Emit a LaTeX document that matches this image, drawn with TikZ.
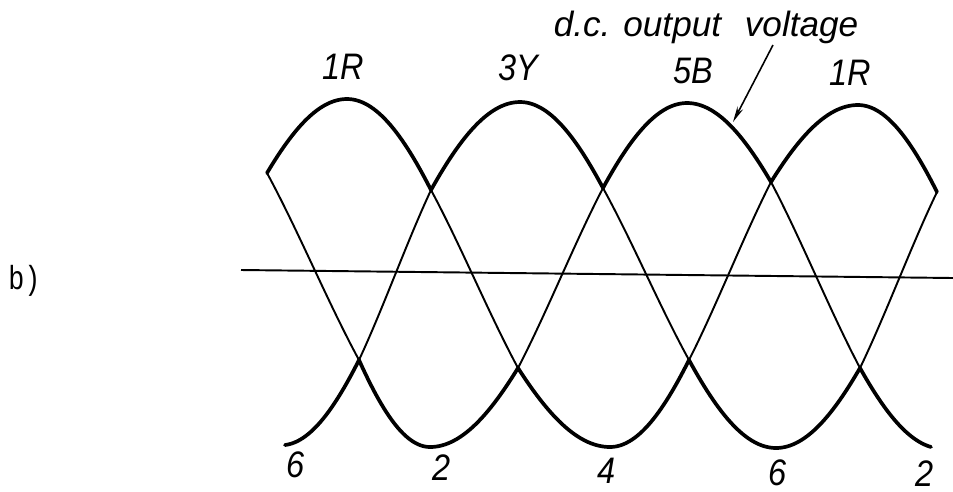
\documentclass[tikz,border=0pt]{standalone}
\usepackage{fontspec}
\usetikzlibrary{arrows.meta}
\newfontfamily\lblfont[FakeStretch=0.88]{Liberation Sans}
\newfontfamily\lblwide{Liberation Sans}
\newfontfamily\ttyfont[FakeStretch=0.8]{Liberation Mono}
% cosine-shaped segment: style, x1, y1, x2, y2, phase1, phase2
\newcommand\cosseg[7]{\draw[#1] plot[domain=#6:#7, samples=30, variable=\t]
  ({#2+(#4-(#2))*(\t-(#6))/((#7)-(#6))},
   {#3+(#5-(#3))*(cos(#6)-cos(\t))/(cos(#6)-cos(#7))});}
\begin{document}
\begin{tikzpicture}[x=0.02cm,y=-0.02cm,
  env/.style={line width=2.1pt, line cap=round, line join=round},
  phase/.style={line width=1.1pt, line cap=round},
  axis/.style={line width=1.1pt},
  lbl/.style={font=\lblfont\itshape\fontsize{21}{24}\selectfont, inner sep=0pt, anchor=base, text depth=0pt},
  biglbl/.style={font=\lblwide\itshape\fontsize{20}{24}\selectfont, inner sep=0pt, anchor=base},
  pointer/.style={line width=0.9pt, -{Stealth[length=9pt,width=3.6pt]}}]
\useasboundingbox (0,0) rectangle (953,491);

% zero line
\coordinate (z0) at (241,270);
\coordinate (z1) at (953,278);
\draw[axis] (z0) -- (z1);

% upper envelope (thick arches)
\cosseg{env}{267}{173}{347}{99}{-60}{0}
\cosseg{env}{347}{99}{431}{190}{0}{60}
\cosseg{env}{431}{190}{520}{102}{-60}{0}
\cosseg{env}{520}{102}{603}{188}{0}{60}
\cosseg{env}{603}{188}{687}{103}{-60}{0}
\cosseg{env}{687}{103}{771}{182}{0}{60}
\cosseg{env}{771}{182}{858}{105}{-60}{0}
\cosseg{env}{858}{105}{937}{192}{0}{60}

% lower envelope (thick bowls)
\cosseg{env}{285}{445}{359}{360}{183}{240}
\cosseg{env}{359}{360}{430}{447}{120}{180}
\cosseg{env}{430}{447}{518}{368}{180}{240}
\cosseg{env}{518}{368}{610}{447}{120}{180}
\cosseg{env}{610}{447}{689}{360}{180}{240}
\cosseg{env}{689}{360}{776}{448}{120}{180}
\cosseg{env}{776}{448}{860}{368}{180}{240}
\cosseg{env}{860}{368}{931}{447}{120}{172}

% thin falling parts
\cosseg{phase}{267}{173}{359}{360}{60}{120}
\cosseg{phase}{431}{190}{518}{368}{60}{120}
\cosseg{phase}{603}{188}{689}{360}{60}{120}
\cosseg{phase}{771}{182}{860}{368}{60}{120}
% thin rising parts
\cosseg{phase}{359}{360}{431}{190}{240}{300}
\cosseg{phase}{518}{368}{603}{188}{240}{300}
\cosseg{phase}{689}{360}{771}{182}{240}{300}
\cosseg{phase}{860}{368}{937}{192}{240}{300}

% phase labels
\node[lbl] (r1) at (343,79) {1R};
\node[lbl] (y3) at (518,80) {3Y};
\node[lbl] (b5) at (693,83) {5B};
\node[lbl] (r1b) at (850,85) {1R};

\node[lbl] (n6a) at (296,477) {6};
\node[lbl] (n2a) at (442,480) {2};
\node[lbl] (n4) at (607,483) {4};
\node[lbl] (n6b) at (778,485) {6};
\node[lbl] (n2b) at (925,486) {2};

% d.c. output voltage
\node[biglbl] (dc) at (706,36) {d.c. output\hspace{0.4em} voltage};
\coordinate (tail) at (773,45);
\coordinate (tip) at (733,122);
\draw[pointer] (tail) -- (tip);

% figure tag
\node[font=\ttyfont\fontsize{19}{21}\selectfont, inner sep=0pt, anchor=base west] (tag) at (8,289) {b)};
\end{tikzpicture}
\end{document}
